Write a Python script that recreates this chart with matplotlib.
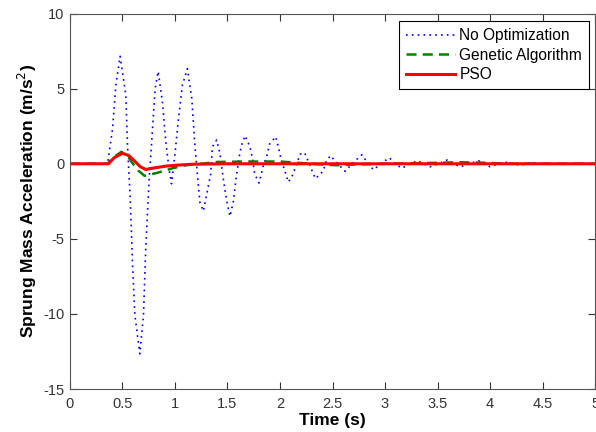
import matplotlib
matplotlib.use("Agg")
import matplotlib.pyplot as plt

plt.rcParams["font.family"] = ["Liberation Sans", "DejaVu Sans"]
plt.rcParams["axes.unicode_minus"] = False

# values
t_no_opt = [0, 0.36, 0.364, 0.405, 0.437, 0.478, 0.532, 0.548, 0.573, 0.596,
            0.618, 0.665, 0.70, 0.722, 0.754, 0.786, 0.811, 0.84, 0.88, 0.913,
            0.944, 0.967, 0.998, 1.033, 1.071, 1.118, 1.16, 1.19, 1.22, 1.238,
            1.27, 1.34, 1.356, 1.397, 1.43, 1.45, 1.473, 1.5, 1.524, 1.556,
            1.58, 1.61, 1.632, 1.667, 1.714, 1.736, 1.759, 1.8, 1.84, 1.879,
            1.9, 1.958, 1.99, 2.01, 2.047, 2.079, 2.115, 2.158, 2.19, 2.234,
            2.275, 2.307, 2.338, 2.41, 2.44, 2.48, 2.55, 2.62, 2.70, 2.78,
            2.84, 2.89, 2.96, 3.04, 3.10, 3.16, 3.24, 3.31, 3.37, 3.43,
            3.51, 3.59, 3.65, 3.72, 3.80, 3.89, 3.95, 4.0, 4.08, 4.16,
            4.22, 4.29, 4.35, 4.4, 4.47, 5.0]
a_no_opt = [0, 0, 0.3, 2.3, 5.25, 7.16, 4.57, 1.2, -2.18, -6.7,
            -10.07, -12.66, -10.07, -5.56, -1.05, 2.32, 5.0, 6.15, 4.12, 1.42,
            -0.38, -1.33, 0.52, 3.0, 5.25, 6.33, 4.35, 1.2, -1.28, -2.6,
            -3.15, -0.7, 1.13, 1.58, 0.63, -0.5, -1.62, -2.75, -3.5, -2.5,
            -1.06, 0.4, 1.2, 1.87, 1.13, 0.4, -0.68, -1.28, -0.16, 0.63,
            1.3, 1.8, 0.97, 0.3, -0.5, -1.22, -0.83, -0.05, 0.63, 0.74,
            0.07, -0.5, -0.99, -0.5, 0.18, 0.54, 0.0, -0.5, 0.1, 0.6,
            0.0, -0.4, 0.0, 0.4, 0.0, -0.3, 0.0, 0.2, 0.0, -0.2,
            0.0, 0.25, 0.0, -0.2, 0.0, 0.2, 0.0, -0.2, 0.0, 0.1,
            0.0, -0.1, 0.0, 0.1, 0.0, 0.0]

t_ga = [0, 0.36, 0.40, 0.49, 0.56, 0.60, 0.65, 0.71, 0.76, 0.833, 0.976,
        1.1, 1.25, 1.4, 1.7, 2.0, 2.2, 2.4, 2.55, 2.7, 3.0, 3.4, 3.7, 3.9,
        4.2, 5.0]
a_ga = [0, 0, 0.35, 0.8, 0.4, 0.0, -0.45, -0.8, -0.72, -0.6, -0.3,
        -0.1, 0.0, 0.12, 0.15, 0.15, 0.05, -0.05, -0.1, -0.05, 0.0, 0.05,
        0.1, 0.08, 0.0, 0.0]

t_pso = [0, 0.367, 0.42, 0.50, 0.56, 0.62, 0.67, 0.722, 0.80, 0.91, 1.0,
         1.17, 1.5, 5.0]
a_pso = [0, 0, 0.4, 0.7, 0.55, 0.15, -0.2, -0.38, -0.28, -0.16, -0.1,
         -0.03, 0.0, 0.0]

x_ticks = [0, 0.5, 1, 1.5, 2, 2.5, 3, 3.5, 4, 4.5, 5]
x_tick_labels = ["0", "0.5", "1", "1.5", "2", "2.5", "3", "3.5", "4", "4.5", "5"]
y_ticks = [-15, -10, -5, 0, 5, 10]

fig = plt.figure(figsize=(5.96, 4.32), dpi=100)
ax = fig.add_axes([0.1174, 0.0995, 0.881, 0.869])

ax.plot(t_no_opt, a_no_opt, color="#0000ff", linestyle=(0, (1, 2.5)),
        linewidth=1.2, label="No Optimization")
ax.plot(t_ga, a_ga, color="#008000", linestyle=(0, (4, 2.5)),
        linewidth=1.8, label="Genetic Algorithm")
ax.plot(t_pso, a_pso, color="#ff0000", linewidth=2.2, label="PSO")

ax.set_xlim(0, 5)
ax.set_ylim(-15, 10)
ax.set_xticks(x_ticks)
ax.set_xticklabels(x_tick_labels)
ax.set_yticks(y_ticks)
ax.tick_params(direction="in", top=True, right=True, length=5,
               labelsize=10.5, colors="#333333")
ax.tick_params(axis="x", pad=6)
ax.tick_params(axis="y", pad=4)
for s in ax.spines.values():
    s.set_color("#555555")
    s.set_linewidth(0.8)

ax.set_xlabel("Time (s)", fontsize=12.5, fontweight="bold", labelpad=1)
ax.set_ylabel("Sprung Mass Acceleration (m/s$^2$)", fontsize=12.5,
              fontweight="bold", labelpad=3)

leg = ax.legend(loc="upper right", bbox_to_anchor=(0.9886, 0.98),
                fancybox=False, framealpha=1, edgecolor="black",
                fontsize=11.2, handlelength=3.1, borderpad=0.45,
                labelspacing=0.3, handletextpad=0.3, borderaxespad=0)
leg.get_frame().set_linewidth(0.8)

fig.savefig("out.png", dpi=100)
